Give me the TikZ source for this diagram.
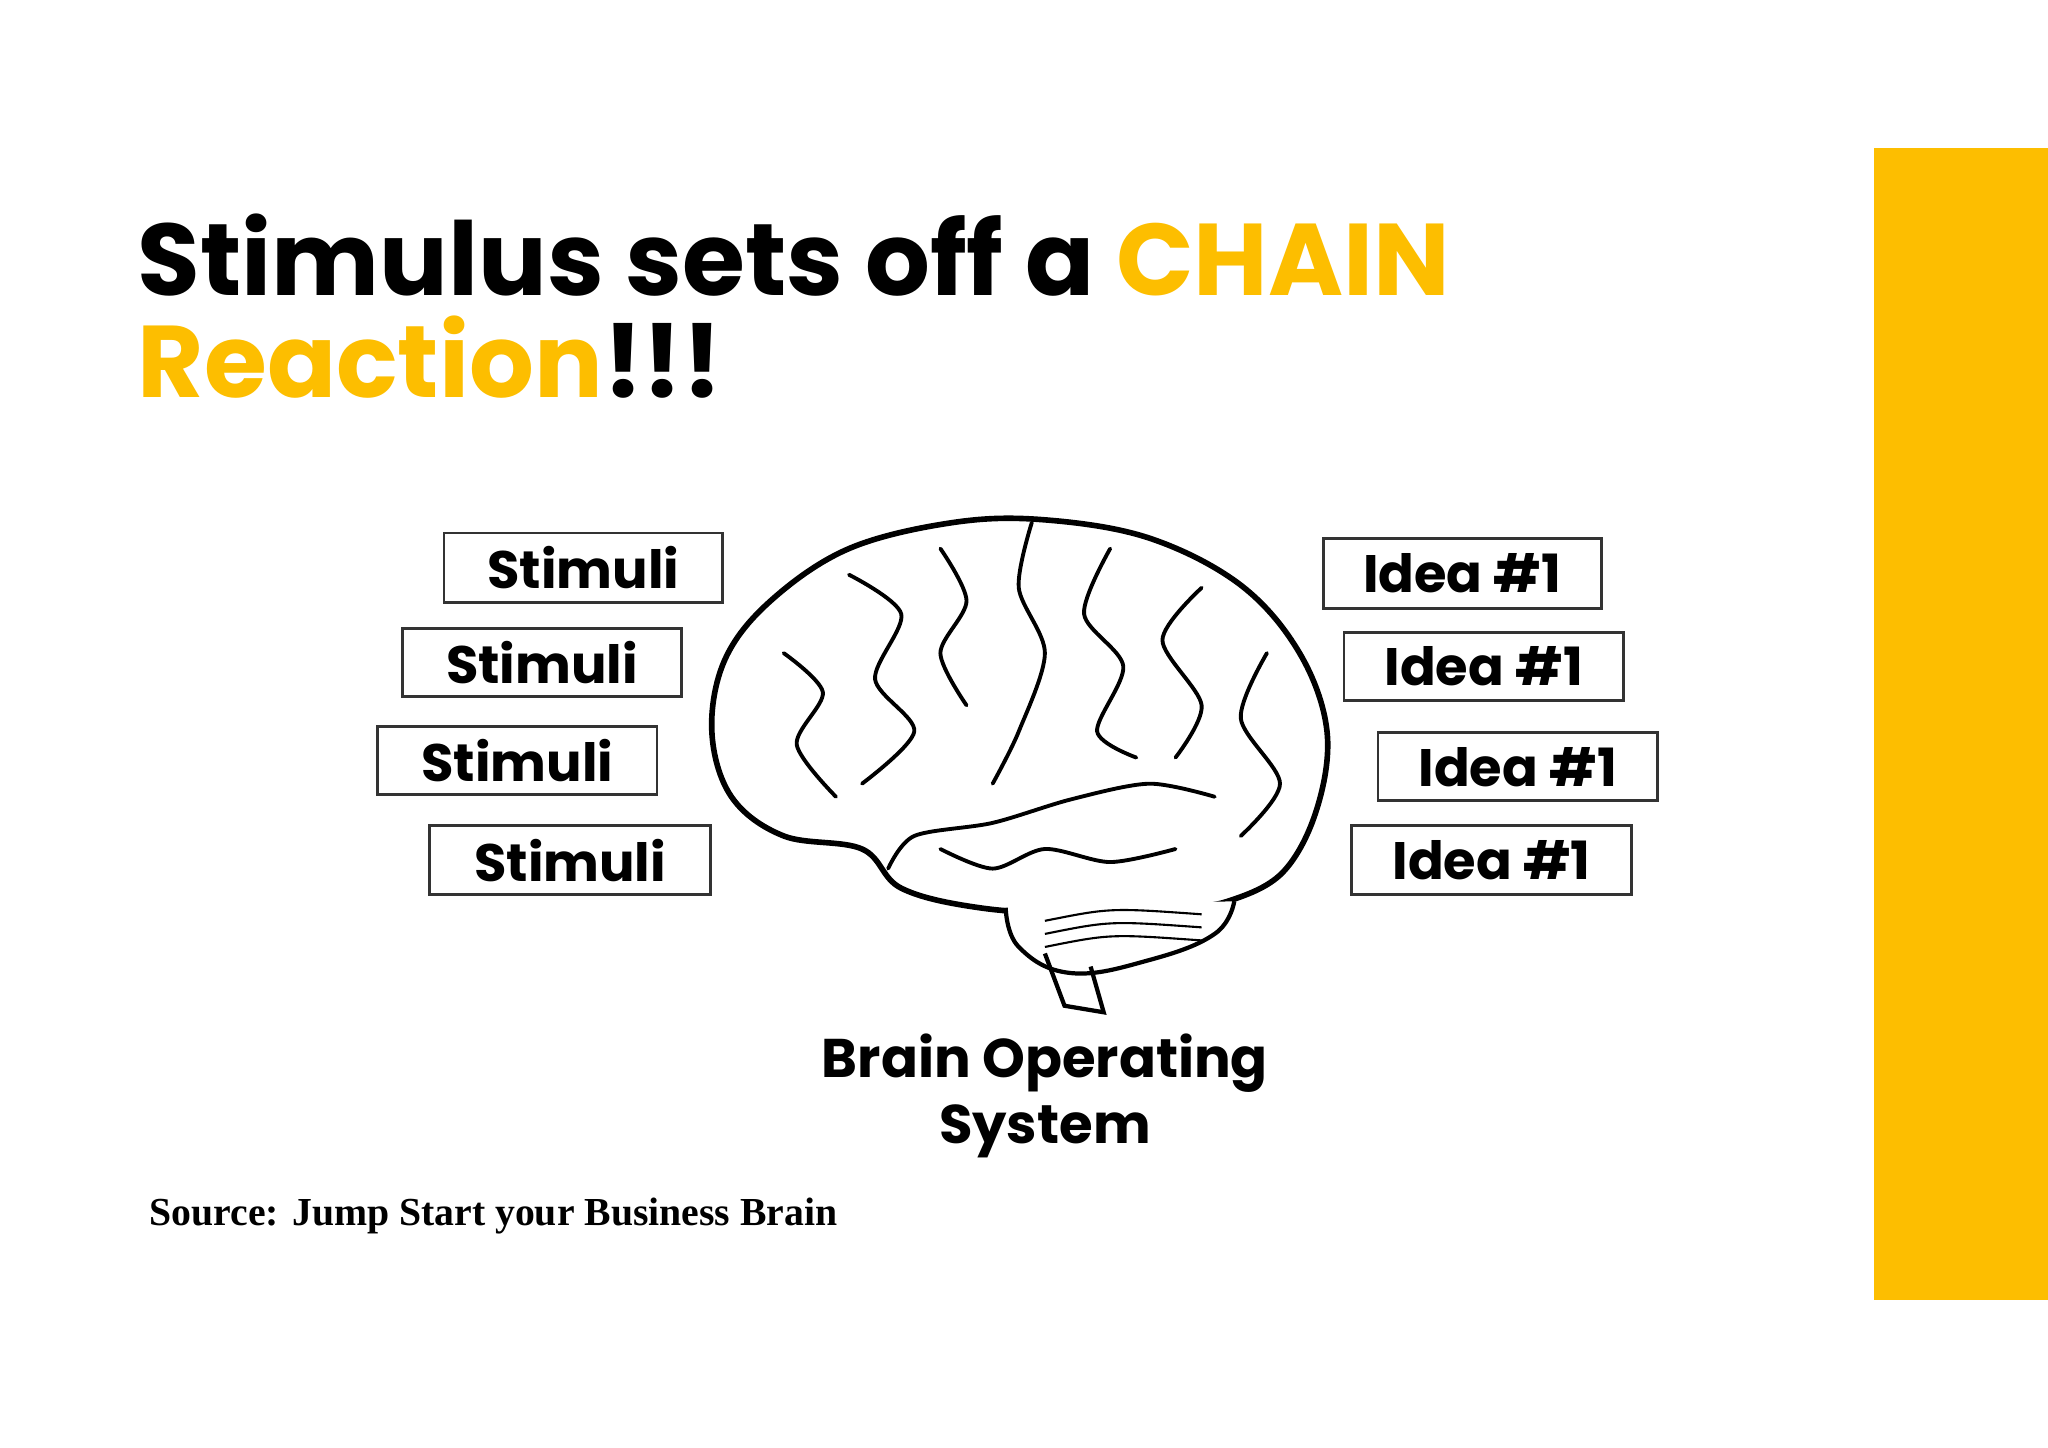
\documentclass[tikz,border=0pt]{standalone}
\usepackage{fontspec}
\setmainfont{Poppins}
\newfontfamily\srcfont{Liberation Serif}
\definecolor{gold}{HTML}{FDBE00}
\begin{document}
\begin{tikzpicture}[x=0.01306cm,y=-0.01306cm,
  lbl/.style={font=\fontsize{15}{16}\selectfont\bfseries},
  gyr/.style={line width=1.1pt,line cap=round}]
\useasboundingbox (0,0) rectangle (1568,1108);
\fill[white] (0,0) rectangle (1568,1108);
\fill[gold] (1435,113) rectangle (1568,995);
\node[anchor=base west,inner sep=0pt,font=\fontsize{29}{30}\selectfont\bfseries] (t1) at (105,226) {Stimulus sets off a \textcolor{gold}{CHAIN}};
\node[anchor=base west,inner sep=0pt,font=\fontsize{29}{30}\selectfont\bfseries] (t2) at (105,304) {\textcolor{gold}{Reaction}!!!};
\foreach \n/\a/\b/\c/\d in {s1/340/408/553/461,s2/308/481/522/533,s3/289/556/503/608,s4/329/632/544/685}{
  \draw[black!80,line width=0.8pt] (\a,\b) rectangle (\c,\d);
  \node[lbl] (\n) at ({(\a+\c)/2},{(\b+\d)/2}) {Stimuli};}
\foreach \n/\a/\b/\c/\d in {i1/1013/412/1226/466,i2/1029/484/1243/536,i3/1055/561/1269/613,i4/1035/632/1249/685}{
  \draw[black!80,line width=0.8pt] (\a,\b) rectangle (\c,\d);
  \node[lbl] (\n) at ({(\a+\c)/2},{(\b+\d)/2}) {Idea \#1};}
% brain
\draw[line width=1.6pt,fill=white] plot[smooth cycle,tension=0.6] coordinates {(660,650)(600,640)(560,610)(545,560)(555,505)(590,460)(650,420)(730,400)(800,398)(880,412)(950,448)(995,500)(1016,560)(1008,620)(982,668)(940,690)(900,695)(830,700)(750,695)(690,680)};
\draw[line width=1.2pt,fill=white] plot[smooth,tension=0.7] coordinates {(770,695)(780,725)(820,745)(880,735)(930,715)(945,690)};
\draw[line width=1.2pt] (800,730) -- (815,770) -- (845,775) -- (835,740);
\draw[gyr] plot[smooth] coordinates {(680,665)(700,640)(760,630)(820,612)(880,600)(930,610)};
\draw[gyr] plot[smooth] coordinates {(790,400)(780,450)(800,500)(780,560)(760,600)};
\draw[gyr] plot[smooth] coordinates {(650,440)(690,470)(670,520)(700,560)(660,600)};
\draw[gyr] plot[smooth] coordinates {(600,500)(630,530)(610,570)(640,610)};
\draw[gyr] plot[smooth] coordinates {(720,420)(740,460)(720,500)(740,540)};
\draw[gyr] plot[smooth] coordinates {(850,420)(830,470)(860,510)(840,560)(870,580)};
\draw[gyr] plot[smooth] coordinates {(920,450)(890,490)(920,540)(900,580)};
\draw[gyr] plot[smooth] coordinates {(970,500)(950,550)(980,600)(950,640)};
\draw[gyr] plot[smooth] coordinates {(720,650)(760,665)(800,650)(850,660)(900,650)};
\foreach \y in {705,715,725}{\draw[line width=0.6pt] (800,\y) .. controls (850,{\y-10}) .. (920,\y-5);}
\node[align=center,font=\fontsize{15.5}{19}\selectfont\bfseries] (cap) at (800,839) {Brain Operating\\System};
\node[anchor=base west,inner sep=0pt,font=\srcfont\fontsize{11.3}{12}\selectfont\bfseries] (src) at (114,938) {Source: Jump Start your Business Brain};
\end{tikzpicture}
\end{document}
